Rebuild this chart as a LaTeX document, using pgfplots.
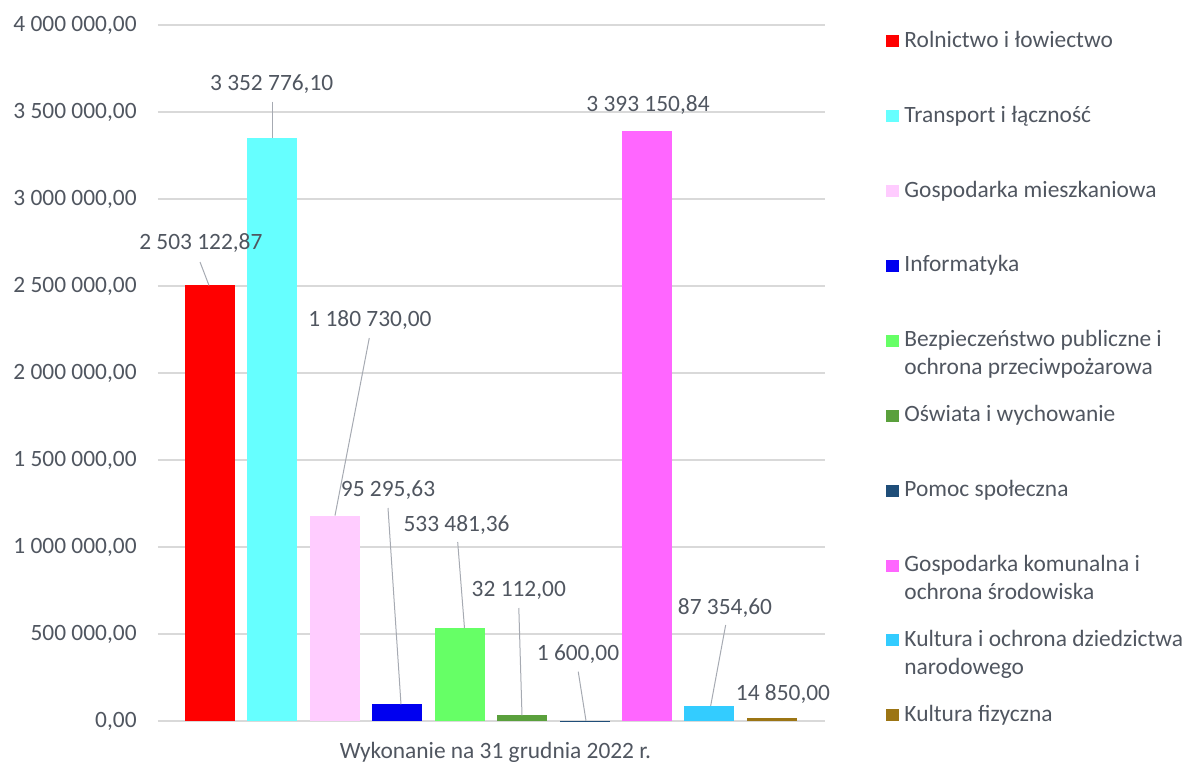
\documentclass[border=0pt]{standalone}
\usepackage{pgfplots}
\pgfplotsset{compat=1.18}
\usepackage{fontspec}
\setmainfont{Carlito}
\definecolor{txt}{RGB}{80,86,96}
\definecolor{gridc}{RGB}{217,217,217}
\definecolor{leadc}{RGB}{166,170,178}
\definecolor{cRol}{RGB}{255,0,0}
\definecolor{cTra}{RGB}{102,255,255}
\definecolor{cGos}{RGB}{255,204,255}
\definecolor{cInf}{RGB}{0,0,240}
\definecolor{cBez}{RGB}{102,255,102}
\definecolor{cOsw}{RGB}{90,160,60}
\definecolor{cPom}{RGB}{31,78,121}
\definecolor{cKom}{RGB}{255,102,255}
\definecolor{cKul}{RGB}{51,204,255}
\definecolor{cFiz}{RGB}{156,117,20}
\begin{document}
\begin{tikzpicture}[
  lbl/.style={font=\fontsize{11.7pt}{14pt}\selectfont, text=txt, inner sep=0pt, anchor=center},
  leader/.style={draw=leadc, line width=0.5pt}]
\path[use as bounding box] (0,0) rectangle (595.5pt,381pt);
\begin{axis}[
  at={(79pt,20.5pt)}, anchor=south west,
  scale only axis, width=333.5pt, height=348pt,
  xmin=-0.833, xmax=9.85, ymin=0, ymax=4000000,
  xtick=\empty,
  ytick={0,500000,...,4000000},
  ymajorgrids, grid style={gridc, line width=0.6pt},
  axis line style={draw=none},
  major tick length=0pt,
  scaled y ticks=false,
  yticklabel style={font=\fontsize{11.7pt}{14pt}\selectfont, text=txt, inner sep=0pt, anchor=east, xshift=-10.5pt,
    /pgf/number format/.cd, assume math mode=true, fixed, fixed zerofill, precision=2, use comma, 1000 sep={\ }},
  xlabel={Wykonanie na 31 grudnia 2022 r.},
  xlabel style={font=\fontsize{11.7pt}{14pt}\selectfont, text=txt, at={(axis description cs:0.5,0)}, anchor=center, yshift=-15.5pt, xshift=2pt},
  ybar, bar width=25pt, bar shift=0pt,
  every axis plot post/.append style={bar shift=0pt, draw=none,
    legend image code/.code={\fill[##1] (0pt,0pt) rectangle (6.5pt,6pt);}},
  legend style={at={(1.0915,0.992)}, anchor=north west, draw=none, fill=none, inner sep=0pt,
    row sep={37.45pt,between origins}, column sep=2.5pt,
    cells={anchor=base west},
    nodes={inner sep=0pt, text=txt, font=\fontsize{11.7pt}{13.8pt}\selectfont}},
  clip=false,
]
\addplot[fill=cRol] coordinates {(0,2503122.87)};
\addlegendentry{Rolnictwo i łowiectwo}
\addplot[fill=cTra] coordinates {(1,3352776.10)};
\addlegendentry{Transport i łączność}
\addplot[fill=cGos] coordinates {(2,1180730.00)};
\addlegendentry{Gospodarka mieszkaniowa}
\addplot[fill=cInf] coordinates {(3,95295.63)};
\addlegendentry{Informatyka}
\addplot[fill=cBez] coordinates {(4,533481.36)};
\addlegendentry{\parbox[t]{150pt}{\raggedright Bezpieczeństwo publiczne i\\ochrona przeciwpożarowa}}
\addplot[fill=cOsw] coordinates {(5,32112.00)};
\addlegendentry{Oświata i wychowanie}
\addplot[fill=cPom] coordinates {(6,1600.00)};
\addlegendentry{Pomoc społeczna}
\addplot[fill=cKom] coordinates {(7,3393150.84)};
\addlegendentry{\parbox[t]{150pt}{\raggedright Gospodarka komunalna i\\ochrona środowiska}}
\addplot[fill=cKul] coordinates {(8,87354.60)};
\addlegendentry{\parbox[t]{150pt}{\raggedright Kultura i ochrona dziedzictwa\\narodowego}}
\addplot[fill=cFiz] coordinates {(9,14850.00)};
\addlegendentry{Kultura fizyczna}

% leader lines
\draw[leader] (axis cs:-0.16,2637933) -- (axis cs:-0.016,2503122.87);
\draw[leader] (axis cs:1.0,3559200) -- (axis cs:1.0,3352776.10);
\draw[leader] (axis cs:2.551,2201150) -- (axis cs:2.002,1180730);
\draw[leader] (axis cs:2.851,1224139) -- (axis cs:3.059,95295.63);
\draw[leader] (axis cs:3.967,1028736) -- (axis cs:4.076,533481.36);
\draw[leader] (axis cs:4.946,649426) -- (axis cs:4.997,32112);
\draw[leader] (axis cs:5.898,283334) -- (axis cs:6.022,1600);
\draw[leader] (axis cs:8.259,551724) -- (axis cs:8.019,87354.6);
% labels
\node[lbl] at (axis cs:-0.147,2747130) {2 503 122,87};
\node[lbl] at (axis cs:0.988,3662600) {3 352 776,10};
\node[lbl] at (axis cs:2.562,2304600) {1 180 730,00};
\node[lbl] at (axis cs:2.851,1327587) {95 295,63};
\node[lbl] at (axis cs:3.949,1126438) {533 481,36};
\node[lbl] at (axis cs:4.946,752874) {32 112,00};
\node[lbl] at (axis cs:5.894,386782) {1 600,00};
\node[lbl] at (axis cs:7.015,3537360) {3 393 150,84};
\node[lbl] at (axis cs:8.248,649426) {87 354,60};
\node[lbl] at (axis cs:9.177,155173) {14 850,00};
\end{axis}
\end{tikzpicture}
\end{document}
